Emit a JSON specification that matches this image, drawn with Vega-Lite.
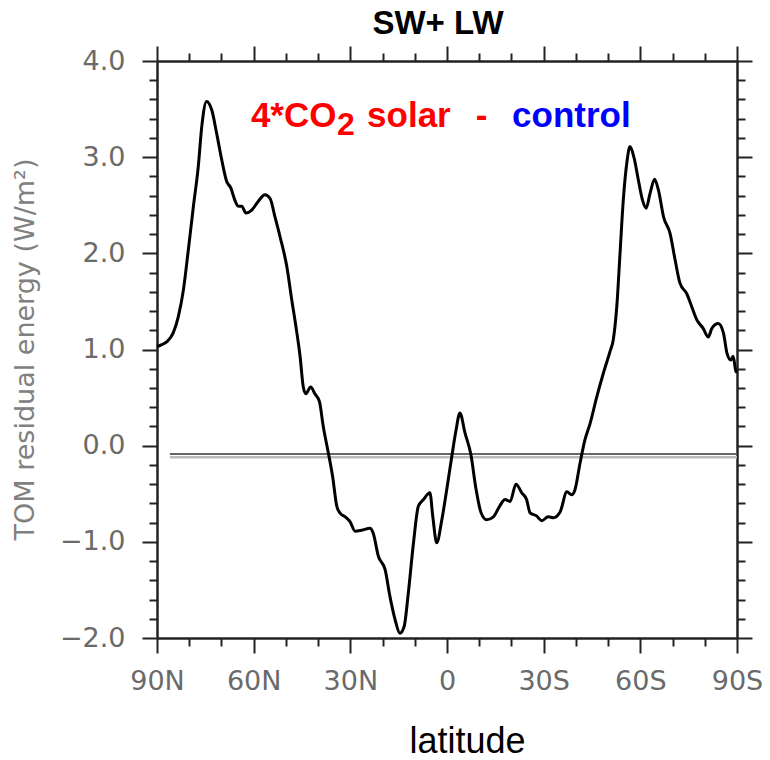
{
  "$schema": "https://vega.github.io/schema/vega-lite/v6.json",
  "width": 580,
  "height": 577,
  "autosize": {"type": "none"},
  "padding": {"left": 157, "top": 61, "right": 33, "bottom": 122},
  "background": "white",
  "title": {"text": "SW+ LW", "anchor": "middle", "font": "Liberation Sans", "fontSize": 33, "fontWeight": "bold", "color": "#000000", "offset": 4, "dx": -9},
  "config": {"view": {"stroke": null}, "axis": {"grid": false}},
  "resolve": {"axis": {"x": "independent", "y": "independent"}},
  "data": {"values": [
    {"lat": 90, "value": 1.03}, {"lat": 88.5, "value": 1.05}, {"lat": 87, "value": 1.08}, {"lat": 85, "value": 1.17},
    {"lat": 83.4, "value": 1.34}, {"lat": 81.8, "value": 1.62}, {"lat": 80.3, "value": 2.03}, {"lat": 78.7, "value": 2.49},
    {"lat": 77.2, "value": 2.9}, {"lat": 76.1, "value": 3.32}, {"lat": 74.6, "value": 3.58}, {"lat": 73.0, "value": 3.49},
    {"lat": 71.5, "value": 3.25}, {"lat": 69.9, "value": 2.97}, {"lat": 68.4, "value": 2.75}, {"lat": 67.1, "value": 2.68},
    {"lat": 65.8, "value": 2.55}, {"lat": 64.8, "value": 2.49}, {"lat": 63.7, "value": 2.49}, {"lat": 62.4, "value": 2.42},
    {"lat": 60.6, "value": 2.45}, {"lat": 58.6, "value": 2.54}, {"lat": 56.5, "value": 2.61}, {"lat": 54.9, "value": 2.57},
    {"lat": 53.4, "value": 2.38}, {"lat": 51.8, "value": 2.17}, {"lat": 49.7, "value": 1.86}, {"lat": 48.2, "value": 1.52},
    {"lat": 46.8, "value": 1.22}, {"lat": 45.6, "value": 0.93}, {"lat": 44.6, "value": 0.61}, {"lat": 43.8, "value": 0.54},
    {"lat": 42.3, "value": 0.61}, {"lat": 41.0, "value": 0.54}, {"lat": 39.6, "value": 0.46}, {"lat": 38.4, "value": 0.2},
    {"lat": 36.8, "value": -0.08}, {"lat": 35.5, "value": -0.32}, {"lat": 34.2, "value": -0.63}, {"lat": 33.2, "value": -0.7},
    {"lat": 31.6, "value": -0.74}, {"lat": 30.1, "value": -0.79}, {"lat": 28.5, "value": -0.89}, {"lat": 26.5, "value": -0.88},
    {"lat": 23.9, "value": -0.86}, {"lat": 22.9, "value": -0.91}, {"lat": 21.3, "value": -1.15}, {"lat": 19.2, "value": -1.29},
    {"lat": 17.7, "value": -1.57}, {"lat": 16.1, "value": -1.81}, {"lat": 14.6, "value": -1.95}, {"lat": 13.3, "value": -1.88},
    {"lat": 12.0, "value": -1.53}, {"lat": 10.4, "value": -1.01}, {"lat": 8.9, "value": -0.63}, {"lat": 7.3, "value": -0.56},
    {"lat": 5.3, "value": -0.49}, {"lat": 4.4, "value": -0.74}, {"lat": 3.2, "value": -1.01}, {"lat": 1.6, "value": -0.77},
    {"lat": 0.1, "value": -0.46}, {"lat": -1.5, "value": -0.11}, {"lat": -2.8, "value": 0.16}, {"lat": -4.0, "value": 0.34},
    {"lat": -5.6, "value": 0.13}, {"lat": -7.4, "value": -0.09}, {"lat": -9.0, "value": -0.45}, {"lat": -10.6, "value": -0.7},
    {"lat": -12.3, "value": -0.77}, {"lat": -14.4, "value": -0.74}, {"lat": -16.5, "value": -0.62}, {"lat": -18.0, "value": -0.56},
    {"lat": -19.6, "value": -0.58}, {"lat": -21.4, "value": -0.4}, {"lat": -23.2, "value": -0.49}, {"lat": -24.7, "value": -0.56},
    {"lat": -25.8, "value": -0.7}, {"lat": -27.8, "value": -0.73}, {"lat": -29.4, "value": -0.78}, {"lat": -31.4, "value": -0.74},
    {"lat": -33.0, "value": -0.75}, {"lat": -35.1, "value": -0.69}, {"lat": -37.2, "value": -0.48}, {"lat": -38.7, "value": -0.51},
    {"lat": -39.7, "value": -0.46}, {"lat": -41.3, "value": -0.18}, {"lat": -42.8, "value": 0.06}, {"lat": -44.4, "value": 0.23},
    {"lat": -46.5, "value": 0.51}, {"lat": -48.5, "value": 0.75}, {"lat": -50.6, "value": 0.98}, {"lat": -51.6, "value": 1.1},
    {"lat": -52.7, "value": 1.45}, {"lat": -53.7, "value": 2.0}, {"lat": -54.7, "value": 2.55}, {"lat": -55.8, "value": 2.94},
    {"lat": -56.8, "value": 3.11}, {"lat": -58.0, "value": 3.0}, {"lat": -59.4, "value": 2.76}, {"lat": -60.7, "value": 2.55},
    {"lat": -61.8, "value": 2.47}, {"lat": -63.0, "value": 2.62}, {"lat": -64.4, "value": 2.77}, {"lat": -65.6, "value": 2.66},
    {"lat": -67.2, "value": 2.38}, {"lat": -69.2, "value": 2.21}, {"lat": -70.8, "value": 1.93}, {"lat": -72.3, "value": 1.69},
    {"lat": -74.4, "value": 1.58}, {"lat": -75.9, "value": 1.45}, {"lat": -77.5, "value": 1.31}, {"lat": -79.5, "value": 1.22},
    {"lat": -81.1, "value": 1.13}, {"lat": -82.2, "value": 1.22}, {"lat": -84.2, "value": 1.27}, {"lat": -85.8, "value": 1.17},
    {"lat": -86.9, "value": 0.96}, {"lat": -88.1, "value": 0.89}, {"lat": -88.8, "value": 0.93}, {"lat": -89.6, "value": 0.78},
    {"lat": -90, "value": 0.76}
  ]},
  "layer": [
    {
      "data": {"values": [{"ref": "a"}]},
      "mark": {"type": "rule", "color": "#bbbbbb", "strokeWidth": 2.5},
      "encoding": {
        "x": {"datum": 86, "type": "quantitative", "axis": null},
        "x2": {"datum": -90},
        "y": {"datum": -0.12, "type": "quantitative", "axis": null}
      }
    },
    {
      "data": {"values": [{"ref": "b"}]},
      "mark": {"type": "rule", "color": "#666666", "strokeWidth": 2},
      "encoding": {
        "x": {"datum": 86, "type": "quantitative", "axis": null},
        "x2": {"datum": -90},
        "y": {"datum": -0.086, "type": "quantitative", "axis": null}
      }
    },
    {
      "mark": {"type": "line", "color": "#000000", "strokeWidth": 3, "interpolate": "monotone"},
      "encoding": {
        "x": {
          "field": "lat", "type": "quantitative",
          "scale": {"domain": [-90, 90], "reverse": true, "nice": false, "zero": false},
          "axis": {
            "orient": "bottom",
            "values": [90, 80, 70, 60, 50, 40, 30, 20, 10, 0, -10, -20, -30, -40, -50, -60, -70, -80, -90],
            "title": "latitude",
            "titleFont": "Liberation Sans", "titleFontSize": 36, "titleFontWeight": "normal", "titleColor": "#000000",
            "titleX": 310, "titleY": 114, "titleBaseline": "alphabetic",
            "labelExpr": "datum.value % 30 === 0 ? (datum.value === 0 ? '0' : (datum.value > 0 ? datum.value + 'N' : (-datum.value) + 'S')) : ''",
            "labelFont": "DejaVu Sans", "labelFontSize": 27, "labelColor": "#6a6a6a", "labelPadding": 15,
            "labelFlush": false, "labelOverlap": false,
            "tickSize": {"condition": {"test": "datum.value % 30 === 0", "value": 15}, "value": 8},
            "tickWidth": 2, "tickColor": "#222222",
            "domainColor": "#222222", "domainWidth": 2.5, "grid": false
          }
        },
        "y": {
          "field": "value", "type": "quantitative",
          "scale": {"domain": [-2, 4], "nice": false, "zero": false},
          "axis": {
            "orient": "left",
            "values": [-2, -1.8, -1.6, -1.4, -1.2, -1, -0.8, -0.6, -0.4, -0.2, 0, 0.2, 0.4, 0.6, 0.8, 1, 1.2, 1.4, 1.6, 1.8, 2, 2.2, 2.4, 2.6, 2.8, 3, 3.2, 3.4, 3.6, 3.8, 4],
            "title": "TOM residual energy (W/m²)",
            "titleFont": "DejaVu Sans", "titleFontSize": 27, "titleFontWeight": "normal", "titleColor": "#808080",
            "titleX": -124, "titleY": 288, "titleBaseline": "alphabetic", "titleAngle": 270,
            "labelExpr": "abs(datum.value - round(datum.value)) < 0.001 ? format(datum.value, '.1f') : ''",
            "labelFont": "DejaVu Sans", "labelFontSize": 27, "labelColor": "#6a6a6a", "labelPadding": 17,
            "labelOverlap": false, "labelFlush": false,
            "tickSize": {"condition": {"test": "abs(datum.value - round(datum.value)) < 0.001", "value": 15}, "value": 8},
            "tickWidth": 2, "tickColor": "#222222",
            "domainColor": "#222222", "domainWidth": 2.5, "grid": false
          }
        }
      }
    },
    {
      "mark": {"type": "line", "strokeOpacity": 0},
      "encoding": {
        "x": {
          "field": "lat", "type": "quantitative",
          "axis": {
            "orient": "top",
            "values": [90, 80, 70, 60, 50, 40, 30, 20, 10, 0, -10, -20, -30, -40, -50, -60, -70, -80, -90],
            "title": null, "labels": false,
            "tickSize": {"condition": {"test": "datum.value % 30 === 0", "value": 15}, "value": 8},
            "tickWidth": 2, "tickColor": "#222222",
            "domainColor": "#222222", "domainWidth": 2.5, "grid": false
          }
        },
        "y": {
          "field": "value", "type": "quantitative",
          "axis": {
            "orient": "right",
            "values": [-2, -1.8, -1.6, -1.4, -1.2, -1, -0.8, -0.6, -0.4, -0.2, 0, 0.2, 0.4, 0.6, 0.8, 1, 1.2, 1.4, 1.6, 1.8, 2, 2.2, 2.4, 2.6, 2.8, 3, 3.2, 3.4, 3.6, 3.8, 4],
            "title": null, "labels": false,
            "tickSize": {"condition": {"test": "abs(datum.value - round(datum.value)) < 0.001", "value": 15}, "value": 8},
            "tickWidth": 2, "tickColor": "#222222",
            "domainColor": "#222222", "domainWidth": 2.5, "grid": false
          }
        }
      }
    },
    {
      "data": {"values": [{"t": "4*CO"}]},
      "mark": {"type": "text", "align": "right", "baseline": "alphabetic", "font": "Liberation Sans", "fontSize": 35, "fontWeight": "bold", "color": "#ff0000"},
      "encoding": {
        "x": {"datum": 34.3, "type": "quantitative", "axis": null},
        "y": {"datum": 3.31, "type": "quantitative", "axis": null},
        "text": {"field": "t"}
      }
    },
    {
      "data": {"values": [{"t": "2"}]},
      "mark": {"type": "text", "align": "left", "baseline": "alphabetic", "font": "Liberation Sans", "fontSize": 32, "fontWeight": "bold", "color": "#ff0000"},
      "encoding": {
        "x": {"datum": 34.1, "type": "quantitative", "axis": null},
        "y": {"datum": 3.23, "type": "quantitative", "axis": null},
        "text": {"field": "t"}
      }
    },
    {
      "data": {"values": [{"t": "solar"}]},
      "mark": {"type": "text", "align": "left", "baseline": "alphabetic", "font": "Liberation Sans", "fontSize": 35, "fontWeight": "bold", "color": "#ff0000"},
      "encoding": {
        "x": {"datum": 24.8, "type": "quantitative", "axis": null},
        "y": {"datum": 3.31, "type": "quantitative", "axis": null},
        "text": {"field": "t"}
      }
    },
    {
      "data": {"values": [{"t": "-"}]},
      "mark": {"type": "text", "align": "center", "baseline": "alphabetic", "font": "Liberation Sans", "fontSize": 35, "fontWeight": "bold", "color": "#ff0000"},
      "encoding": {
        "x": {"datum": -10.7, "type": "quantitative", "axis": null},
        "y": {"datum": 3.31, "type": "quantitative", "axis": null},
        "text": {"field": "t"}
      }
    },
    {
      "data": {"values": [{"t": "control"}]},
      "mark": {"type": "text", "align": "left", "baseline": "alphabetic", "font": "Liberation Sans", "fontSize": 35, "fontWeight": "bold", "color": "#0000ff"},
      "encoding": {
        "x": {"datum": -20.2, "type": "quantitative", "axis": null},
        "y": {"datum": 3.31, "type": "quantitative", "axis": null},
        "text": {"field": "t"}
      }
    }
  ]
}
